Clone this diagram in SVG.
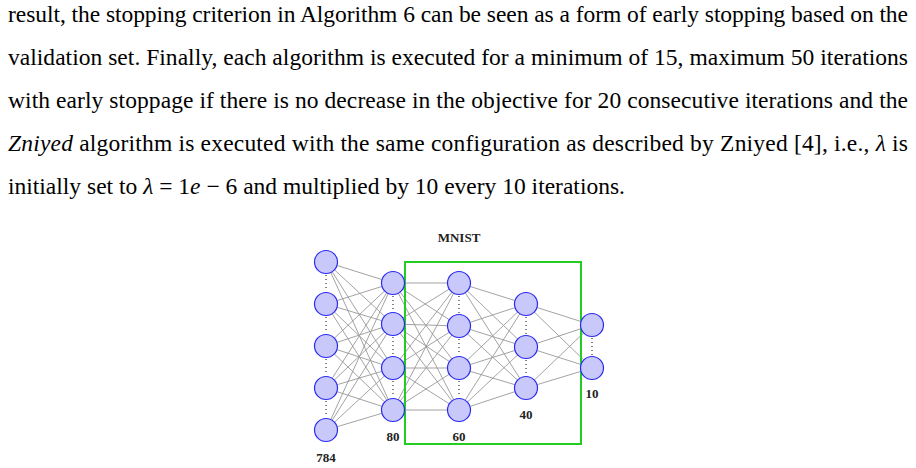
<svg xmlns="http://www.w3.org/2000/svg" width="916" height="468" viewBox="0 0 916 468">
<style>
.t{font-family:"Liberation Serif",serif;font-size:23.5px;fill:#000}
.l{font-family:"Liberation Serif",serif;font-size:13px;font-weight:bold;fill:#222;text-anchor:middle}
.n{fill:#c8c8fa;stroke:#2a2af0;stroke-width:1.2}
.e{stroke:#999;stroke-width:0.9}
.d{stroke:#333;stroke-width:1.2;stroke-dasharray:1 3}
</style>
<rect width="916" height="468" fill="#fff"/>
<text class="t" x="8" y="22" textLength="900" lengthAdjust="spacing">result, the stopping criterion in Algorithm 6 can be seen as a form of early stopping based on the</text>
<text class="t" x="8" y="65" textLength="900" lengthAdjust="spacing">validation set. Finally, each algorithm is executed for a minimum of 15, maximum 50 iterations</text>
<text class="t" x="8" y="108" textLength="900" lengthAdjust="spacing">with early stoppage if there is no decrease in the objective for 20 consecutive iterations and the</text>
<text class="t" x="8" y="151" textLength="900" lengthAdjust="spacing"><tspan font-style="italic">Zniyed</tspan> algorithm is executed with the same configuration as described by Zniyed [4], i.e., <tspan font-style="italic">λ</tspan> is</text>
<text class="t" x="8" y="194">initially set to <tspan font-style="italic">λ</tspan> = 1<tspan font-style="italic">e</tspan> − 6 and multiplied by 10 every 10 iterations.</text>
<g id="connectors">
<g class="e">
<path d="M326 262L393 283M326 262L393 324M326 262L393 368M326 262L393 410M326 304L393 283M326 304L393 324M326 304L393 368M326 304L393 410M326 346L393 283M326 346L393 324M326 346L393 368M326 346L393 410M326 388L393 283M326 388L393 324M326 388L393 368M326 388L393 410M326 430L393 283M326 430L393 324M326 430L393 368M326 430L393 410"/>
<path d="M393 283L459 283M393 283L459 326M393 283L459 368M393 283L459 410M393 324L459 283M393 324L459 326M393 324L459 368M393 324L459 410M393 368L459 283M393 368L459 326M393 368L459 368M393 368L459 410M393 410L459 283M393 410L459 326M393 410L459 368M393 410L459 410"/>
<path d="M459 283L526 304M459 283L526 347M459 283L526 388M459 326L526 304M459 326L526 347M459 326L526 388M459 368L526 304M459 368L526 347M459 368L526 388M459 410L526 304M459 410L526 347M459 410L526 388"/>
<path d="M526 304L592 325M526 304L592 368M526 347L592 325M526 347L592 368M526 388L592 325M526 388L592 368"/>
</g>
</g>
<rect x="405" y="262" width="176" height="182" fill="none" stroke="#22cc22" stroke-width="2"/>
<g class="d">
<path d="M326 275V291M326 317V333M326 359V375M326 401V417M393 296V311M393 337V355M393 381V397M459 296V313M459 339V355M459 381V397M526 317V334M526 360V375M592 338V355"/>
</g>
<g id="layer1"><circle class="n" cx="326" cy="262" r="11.5"/><circle class="n" cx="326" cy="304" r="11.5"/><circle class="n" cx="326" cy="346" r="11.5"/><circle class="n" cx="326" cy="388" r="11.5"/><circle class="n" cx="326" cy="430" r="11.5"/></g>
<g id="layer2"><circle class="n" cx="393" cy="283" r="11.5"/><circle class="n" cx="393" cy="324" r="11.5"/><circle class="n" cx="393" cy="368" r="11.5"/><circle class="n" cx="393" cy="410" r="11.5"/></g>
<g id="layer3"><circle class="n" cx="459" cy="283" r="11.5"/><circle class="n" cx="459" cy="326" r="11.5"/><circle class="n" cx="459" cy="368" r="11.5"/><circle class="n" cx="459" cy="410" r="11.5"/></g>
<g id="layer4"><circle class="n" cx="526" cy="304" r="11.5"/><circle class="n" cx="526" cy="347" r="11.5"/><circle class="n" cx="526" cy="388" r="11.5"/></g>
<g id="layer5"><circle class="n" cx="592" cy="325" r="11.5"/><circle class="n" cx="592" cy="368" r="11.5"/></g>
<text class="l" x="459" y="242" font-size="14">MNIST</text>
<text class="l" x="326" y="462">784</text>
<text class="l" x="393" y="441">80</text>
<text class="l" x="459" y="441">60</text>
<text class="l" x="526" y="419">40</text>
<text class="l" x="592" y="398">10</text>
</svg>
